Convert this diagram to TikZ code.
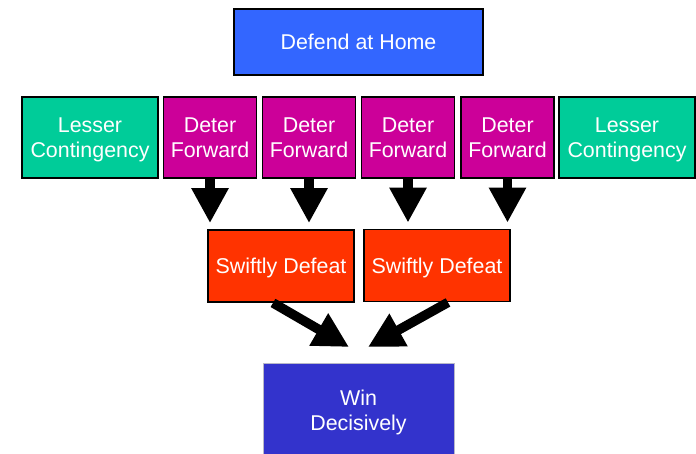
\documentclass[tikz,border=0pt]{standalone}
\usepackage{fontspec}
\setmainfont{Liberation Sans}
\usetikzlibrary{arrows.meta}
\definecolor{cTop}{HTML}{3366FF}
\definecolor{cGreen}{HTML}{00CC99}
\definecolor{cMag}{HTML}{CC0099}
\definecolor{cOrange}{HTML}{FF3300}
\definecolor{cWin}{HTML}{3333CC}
\definecolor{cWinBorder}{HTML}{B8B8C8}
\newcommand{\nodepth}[1]{\raisebox{0pt}[\height][0pt]{#1}}
\tikzset{
  box/.style={draw=black, line width=1.8pt, inner sep=0pt, text=white, align=center,
    font=\fontsize{21.4}{24.5}\selectfont},
  topbox/.style={box, fill=cTop, minimum width=249pt, minimum height=66pt},
  lesser/.style={box, fill=cGreen, minimum width=136pt, minimum height=81pt},
  deter/.style={box, fill=cMag, minimum width=93pt, minimum height=81pt},
  swift/.style={box, fill=cOrange, minimum width=146pt, minimum height=72pt},
  winbox/.style={box, fill=cWin, draw=cWinBorder, line width=1pt, minimum width=191pt, minimum height=94pt},
  blockarrow/.style={line width=9.5pt, -{Triangle[length=35pt 0 0, width=35pt 0 0]}}
}
\begin{document}
\begin{tikzpicture}[x=1pt, y=-1pt]
\useasboundingbox (0,0) rectangle (696,453);
\clip (0,0) rectangle (696,453);
% nodes
\node[topbox] (home) at (358.5,42) {Defend at Home};
\node[lesser] (l1) at (90,137.5) {Lesser\\\nodepth{Contingency}};
\node[deter] (d1) at (210,137.5) {Deter\\Forward};
\node[deter] (d2) at (309,137.5) {Deter\\Forward};
\node[deter] (d3) at (408,137.5) {Deter\\Forward};
\node[deter] (d4) at (507.5,137.5) {Deter\\Forward};
\node[lesser] (l2) at (627,137.5) {Lesser\\\nodepth{Contingency}};
\node[swift] (s1) at (281,266) {\nodepth{Swiftly Defeat}};
\node[swift] (s2) at (437,265.5) {\nodepth{Swiftly Defeat}};
\node[winbox] (win) at (358.5,410) {Win\\\nodepth{Decisively}};
% coordinates
\coordinate (t1) at (349,347);
\coordinate (t2) at (368,347);
% arrows
\draw[blockarrow, shorten >=6pt] (d1.south) -- (d1.south |- s1.north);
\draw[blockarrow, shorten >=6pt] (d2.south) -- (d2.south |- s1.north);
\draw[blockarrow, shorten >=6pt] (d3.south) -- (d3.south |- s2.north);
\draw[blockarrow, shorten >=6pt] (d4.south) -- (d4.south |- s2.north);
\draw[blockarrow] ([xshift=-8pt]s1.south) -- (t1);
\draw[blockarrow] ([xshift=11pt]s2.south) -- (t2);
\end{tikzpicture}
\end{document}
